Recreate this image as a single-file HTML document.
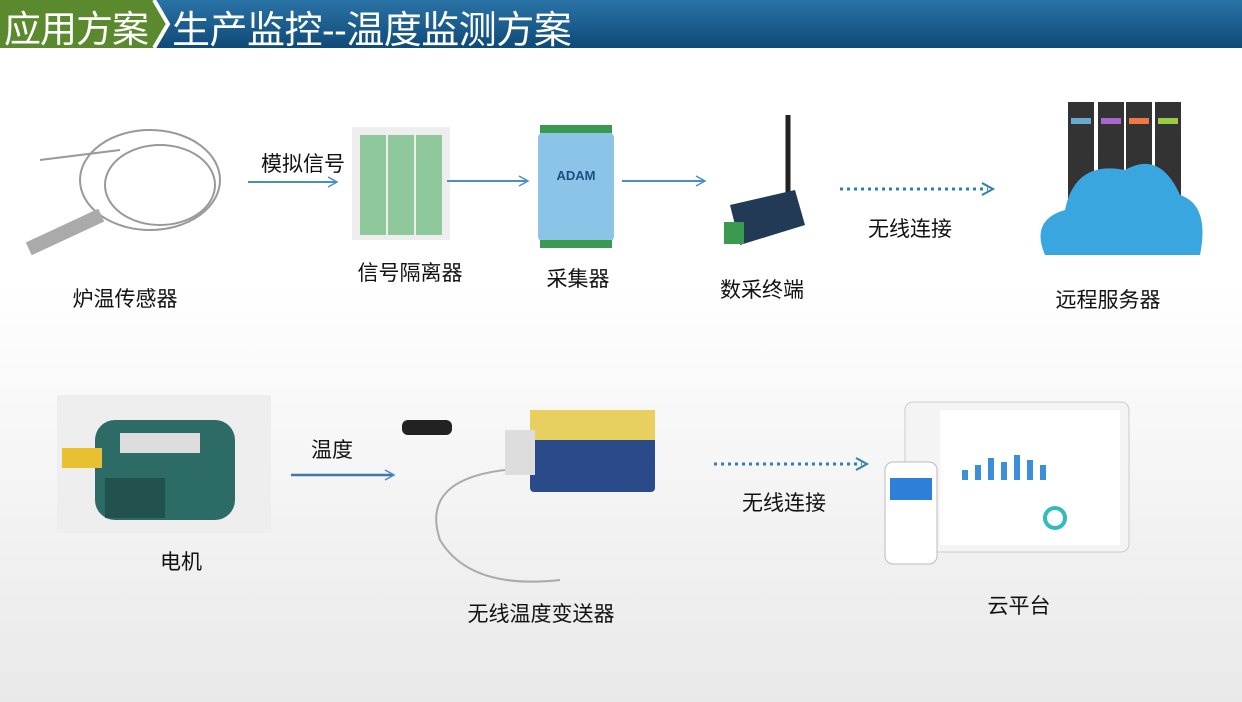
<!DOCTYPE html><html><head><meta charset="utf-8"><style>
body{margin:0;width:1242px;height:702px;overflow:hidden;position:relative;font-family:"Liberation Sans","Noto Sans CJK SC",sans-serif;background:linear-gradient(#fff 0%,#fff 40%,#e9e9e9 100%)}
.a{position:absolute}
.t{position:absolute;font-size:21px;color:#111;white-space:nowrap;transform:translateX(-50%)}
</style></head><body>
<div class="a" style="left:0;top:0;width:1242px;height:48px;background:linear-gradient(#2a73a6,#0f4a78)"></div>
<svg class="a" style="left:0;top:0" width="180" height="48"><polygon points="0,0 152,0 166,24 152,48 0,48" fill="#5b8a2e"/><polyline points="154,0 168,24 154,48" fill="none" stroke="#fff" stroke-width="4"/></svg>
<div class="a" style="left:4px;top:-1px;font-size:37px;color:#fff;letter-spacing:-1px">应用方案</div>
<div class="a" style="left:172px;top:-1px;font-size:38px;color:#fff;letter-spacing:-0.5px">生产监控--温度监测方案</div>

<svg class="a" style="left:0;top:0" width="1242" height="702">
<defs><marker id="m" markerUnits="userSpaceOnUse" markerWidth="12" markerHeight="12" refX="10" refY="6" orient="auto"><path d="M1,1 L10,6 L1,11" fill="none" stroke="#4a8fc4" stroke-width="1.5"/></marker></defs>
<g fill="none" stroke="#999" stroke-width="2"><ellipse cx="150" cy="180" rx="70" ry="50"/><ellipse cx="160" cy="185" rx="55" ry="40"/><path d="M40,160 L120,150"/></g>
<rect x="25" y="225" width="80" height="14" fill="#aaa" transform="rotate(-25 65 232)"/>
<rect x="352" y="127" width="98" height="113" fill="#eee"/>
<rect x="360" y="135" width="26" height="100" fill="#8fc89a"/><rect x="388" y="135" width="26" height="100" fill="#8fc89a"/><rect x="416" y="135" width="26" height="100" fill="#8fc89a"/>
<rect x="538" y="132" width="76" height="110" rx="6" fill="#8cc4e8"/><rect x="540" y="125" width="72" height="8" fill="#3a9a50"/><rect x="540" y="240" width="72" height="8" fill="#3a9a50"/>
<text x="576" y="180" font-size="13" fill="#1d4e80" text-anchor="middle" font-weight="bold">ADAM</text>
<line x1="788" y1="115" x2="788" y2="195" stroke="#222" stroke-width="5"/>
<polygon points="730,205 795,190 805,225 740,245" fill="#223a55"/><rect x="724" y="222" width="20" height="22" fill="#3a9a50"/>
<rect x="1068" y="102" width="26" height="120" fill="#333"/><rect x="1098" y="102" width="26" height="120" fill="#333"/><rect x="1126" y="102" width="26" height="120" fill="#333"/><rect x="1155" y="102" width="26" height="120" fill="#333"/>
<rect x="1071" y="118" width="20" height="6" fill="#6ac"/><rect x="1101" y="118" width="20" height="6" fill="#a6c"/><rect x="1129" y="118" width="20" height="6" fill="#e74"/><rect x="1158" y="118" width="20" height="6" fill="#9c4"/>
<path d="M1045,255 Q1030,220 1065,210 Q1075,160 1125,170 Q1160,150 1180,195 Q1210,205 1200,255 Z" fill="#3aa6e0"/>
<rect x="57" y="395" width="214" height="138" fill="#eee"/>
<rect x="95" y="420" width="140" height="100" rx="20" fill="#2d6b66"/><rect x="62" y="448" width="40" height="20" fill="#e8c030"/>
<rect x="105" y="478" width="60" height="40" fill="#22524e"/><rect x="120" y="433" width="80" height="20" fill="#ddd"/>
<rect x="530" y="410" width="125" height="82" rx="4" fill="#2b4a8a"/><rect x="530" y="410" width="125" height="30" fill="#e8d060"/>
<rect x="505" y="430" width="30" height="45" fill="#ddd"/><rect x="402" y="420" width="50" height="15" rx="6" fill="#222"/>
<path d="M505,470 Q420,480 440,540 Q470,590 560,580" fill="none" stroke="#aaa" stroke-width="2"/>
<rect x="905" y="402" width="224" height="150" rx="8" fill="#f4f4f4" stroke="#ccc"/><rect x="940" y="410" width="180" height="135" fill="#fff"/>
<g fill="#3a8fd8"><rect x="962" y="470" width="6" height="10"/><rect x="975" y="465" width="6" height="15"/><rect x="988" y="458" width="6" height="22"/><rect x="1001" y="462" width="6" height="18"/><rect x="1014" y="455" width="6" height="25"/><rect x="1027" y="460" width="6" height="20"/><rect x="1040" y="465" width="6" height="15"/></g>
<circle cx="1055" cy="518" r="10" fill="none" stroke="#3bb" stroke-width="4"/>
<rect x="885" y="462" width="52" height="102" rx="8" fill="#fff" stroke="#bbb"/><rect x="890" y="478" width="42" height="22" fill="#2e7fd8"/>
<g stroke="#4a8fc4" stroke-width="2" marker-end="url(#m)"><line x1="248" y1="182" x2="337" y2="182"/><line x1="447" y1="181" x2="528" y2="181"/><line x1="622" y1="181" x2="705" y2="181"/></g>
<line x1="291" y1="475" x2="394" y2="475" stroke="#3f76b0" stroke-width="2.5" marker-end="url(#m)"/>
<g stroke="#2f7fb0" stroke-width="3" stroke-dasharray="3,4"><line x1="840" y1="189" x2="988" y2="189"/><line x1="714" y1="464" x2="862" y2="464"/></g>
<g stroke="#2f7fb0" stroke-width="2" fill="none"><path d="M982,183 L993,189 L982,195"/><path d="M856,458 L867,464 L856,470"/></g>
</svg>
<div class="t" style="left:125px;top:283px">炉温传感器</div>
<div class="t" style="left:303px;top:148px">模拟信号</div>
<div class="t" style="left:410px;top:257px">信号隔离器</div>
<div class="t" style="left:578px;top:263px">采集器</div>
<div class="t" style="left:762px;top:274px">数采终端</div>
<div class="t" style="left:910px;top:213px">无线连接</div>
<div class="t" style="left:1108px;top:284px">远程服务器</div>
<div class="t" style="left:181px;top:546px">电机</div>
<div class="t" style="left:332px;top:434px">温度</div>
<div class="t" style="left:541px;top:598px">无线温度变送器</div>
<div class="t" style="left:784px;top:487px">无线连接</div>
<div class="t" style="left:1019px;top:590px">云平台</div>
</body></html>
